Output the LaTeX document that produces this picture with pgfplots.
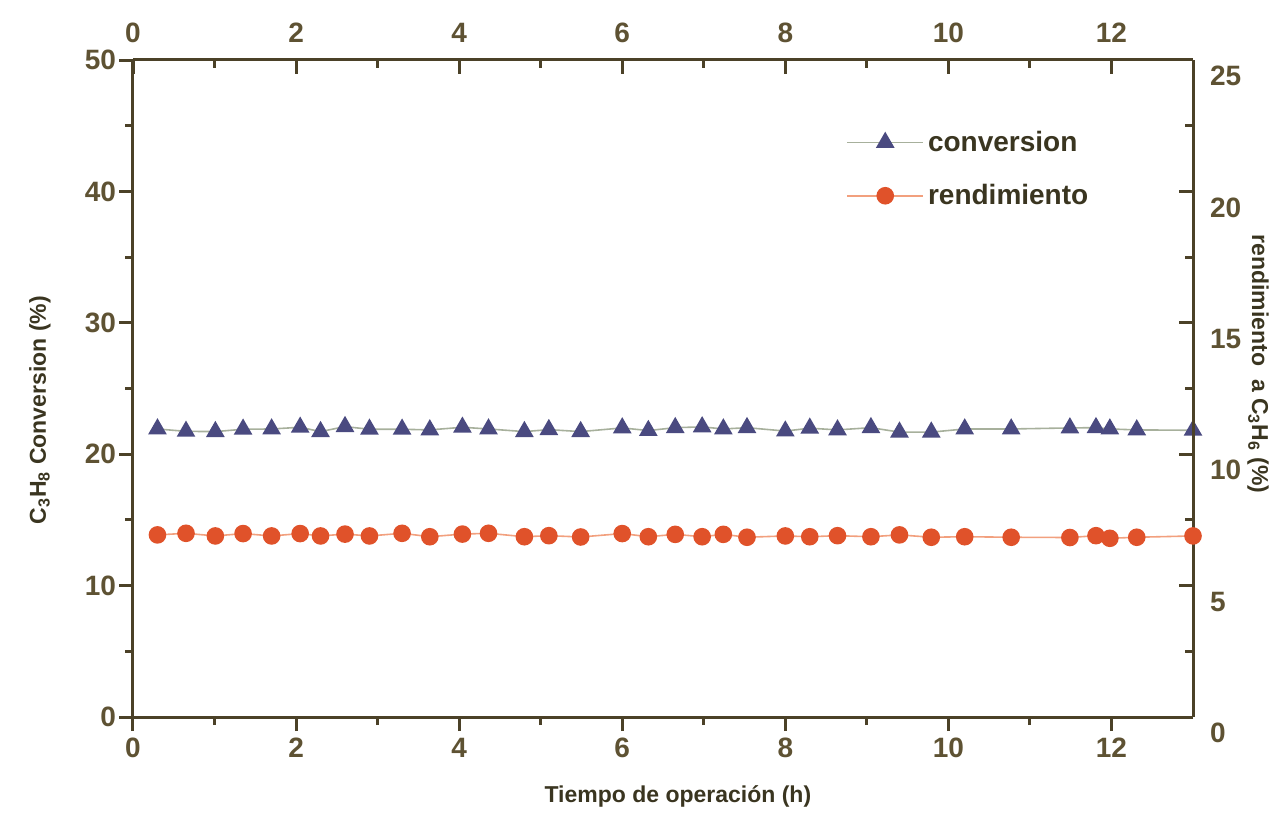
\documentclass[border=0pt]{standalone}
\usepackage{fontspec}
\setmainfont{Liberation Sans}
\usepackage{pgfplots}
\usepackage{pgfplotstable}
\pgfplotsset{compat=1.18}
\definecolor{axcol}{HTML}{4B4128}
\definecolor{tickcol}{HTML}{5E5233}
\definecolor{labcol}{HTML}{3A3520}
\definecolor{convmark}{HTML}{4A4A80}
\definecolor{convline}{HTML}{A7B09C}
\definecolor{rendmark}{HTML}{E0522A}
\definecolor{rendline}{HTML}{F2A07E}

\pgfplotstableread{
t conv
0.30 21.92
0.65 21.74
1.01 21.72
1.35 21.90
1.70 21.92
2.05 22.05
2.30 21.72
2.60 22.10
2.90 21.90
3.30 21.90
3.64 21.85
4.04 22.05
4.36 21.92
4.80 21.72
5.10 21.87
5.49 21.72
6.00 22.00
6.32 21.80
6.65 22.02
6.98 22.08
7.24 21.92
7.53 22.02
8.00 21.76
8.30 21.98
8.64 21.85
9.05 22.02
9.40 21.68
9.79 21.68
10.20 21.92
10.77 21.92
11.49 22.00
11.81 22.02
11.98 21.92
12.31 21.85
13.00 21.82
}\convtable

\pgfplotstableread{
t rend
0.30 6.93
0.65 6.99
1.01 6.89
1.35 6.98
1.70 6.89
2.05 6.98
2.30 6.89
2.60 6.96
2.90 6.89
3.30 6.99
3.64 6.86
4.04 6.96
4.36 6.99
4.80 6.86
5.10 6.90
5.49 6.85
6.00 6.98
6.32 6.86
6.65 6.95
6.98 6.86
7.24 6.95
7.53 6.84
8.00 6.89
8.30 6.86
8.64 6.90
9.05 6.86
9.40 6.93
9.79 6.84
10.20 6.86
10.77 6.84
11.49 6.83
11.81 6.90
11.98 6.80
12.31 6.84
13.00 6.89
}\rendtable

\pgfplotsset{
  base/.style={
    scale only axis, width=530pt, height=328.5pt,
    xmin=0, xmax=13, xtick={0,2,...,12}, minor x tick num=1,
    axis line style={axcol, line width=1.5pt},
    tick style={axcol, line width=1.5pt},
    major tick length=7pt, minor tick length=4pt,
    ticklabel style={font=\fontsize{14}{16}\selectfont\bfseries, text=tickcol},
    /pgf/number format/assume math mode=true,
    label style={font=\fontsize{11.5}{14}\selectfont\bfseries, text=labcol},
  },
  convstyle/.style={color=convline, line width=0.8pt, mark=triangle*, mark size=4.6pt,
    mark options={fill=convmark, draw=convmark, solid}},
  rendstyle/.style={color=rendline, line width=0.8pt, mark=*, mark size=4pt,
    mark options={fill=rendmark, draw=rendmark, solid}},
}

\begin{document}
\begin{tikzpicture}
\begin{axis}[base, name=main,
  axis y line*=left, axis x line*=bottom, tick align=outside,
  ymin=0, ymax=50, ytick={0,10,...,50}, minor y tick num=1,
  yticklabel style={xshift=2pt},
  xlabel={Tiempo de operación (h)},
  xlabel style={at={(axis description cs:0.514,-0.1202)}, anchor=center},
  ylabel={C\textsubscript{3}H\textsubscript{8} Conversion (\%)},
  ylabel style={at={(axis description cs:-0.0877,0.467)}, anchor=center},
]
\addplot[convstyle] table[x=t, y=conv] {\convtable};
\end{axis}
\begin{axis}[base,
  axis y line*=right, axis x line*=top, tick align=inside,
  ymin=0, ymax=25, ytick={0,5,...,25}, minor y tick num=1,
  xticklabel style={yshift=5pt},
  yticklabel style={xshift=5pt, yshift=-8pt},
  ylabel={rendimiento \ a C\textsubscript{3}H\textsubscript{6} (\%)},
  ylabel style={at={(axis description cs:1.0613,0.537)}, anchor=center, rotate=180},
  legend style={draw=none, fill=none, at={(0.667,0.905)}, anchor=north west,
    font=\fontsize{14}{16}\selectfont\bfseries, text=labcol, row sep=11pt,
    /tikz/every even column/.append style={column sep=0pt}},
  legend cell align=left,
  legend image code/.code={\draw[mark repeat=2,mark phase=2] plot coordinates {(0pt,0pt)(19pt,0pt)(38pt,0pt)};},
]
\addlegendimage{convstyle}
\addlegendentry{conversion}
\addplot[rendstyle] table[x=t, y=rend] {\rendtable};
\addlegendentry{rendimiento}
\end{axis}
\path (main.south west) ++(-66.5pt,-45.5pt) coordinate (bl);
\path (main.north east) ++(42pt,30pt) coordinate (tr);
\path (bl) rectangle (tr);
\end{tikzpicture}
\end{document}
